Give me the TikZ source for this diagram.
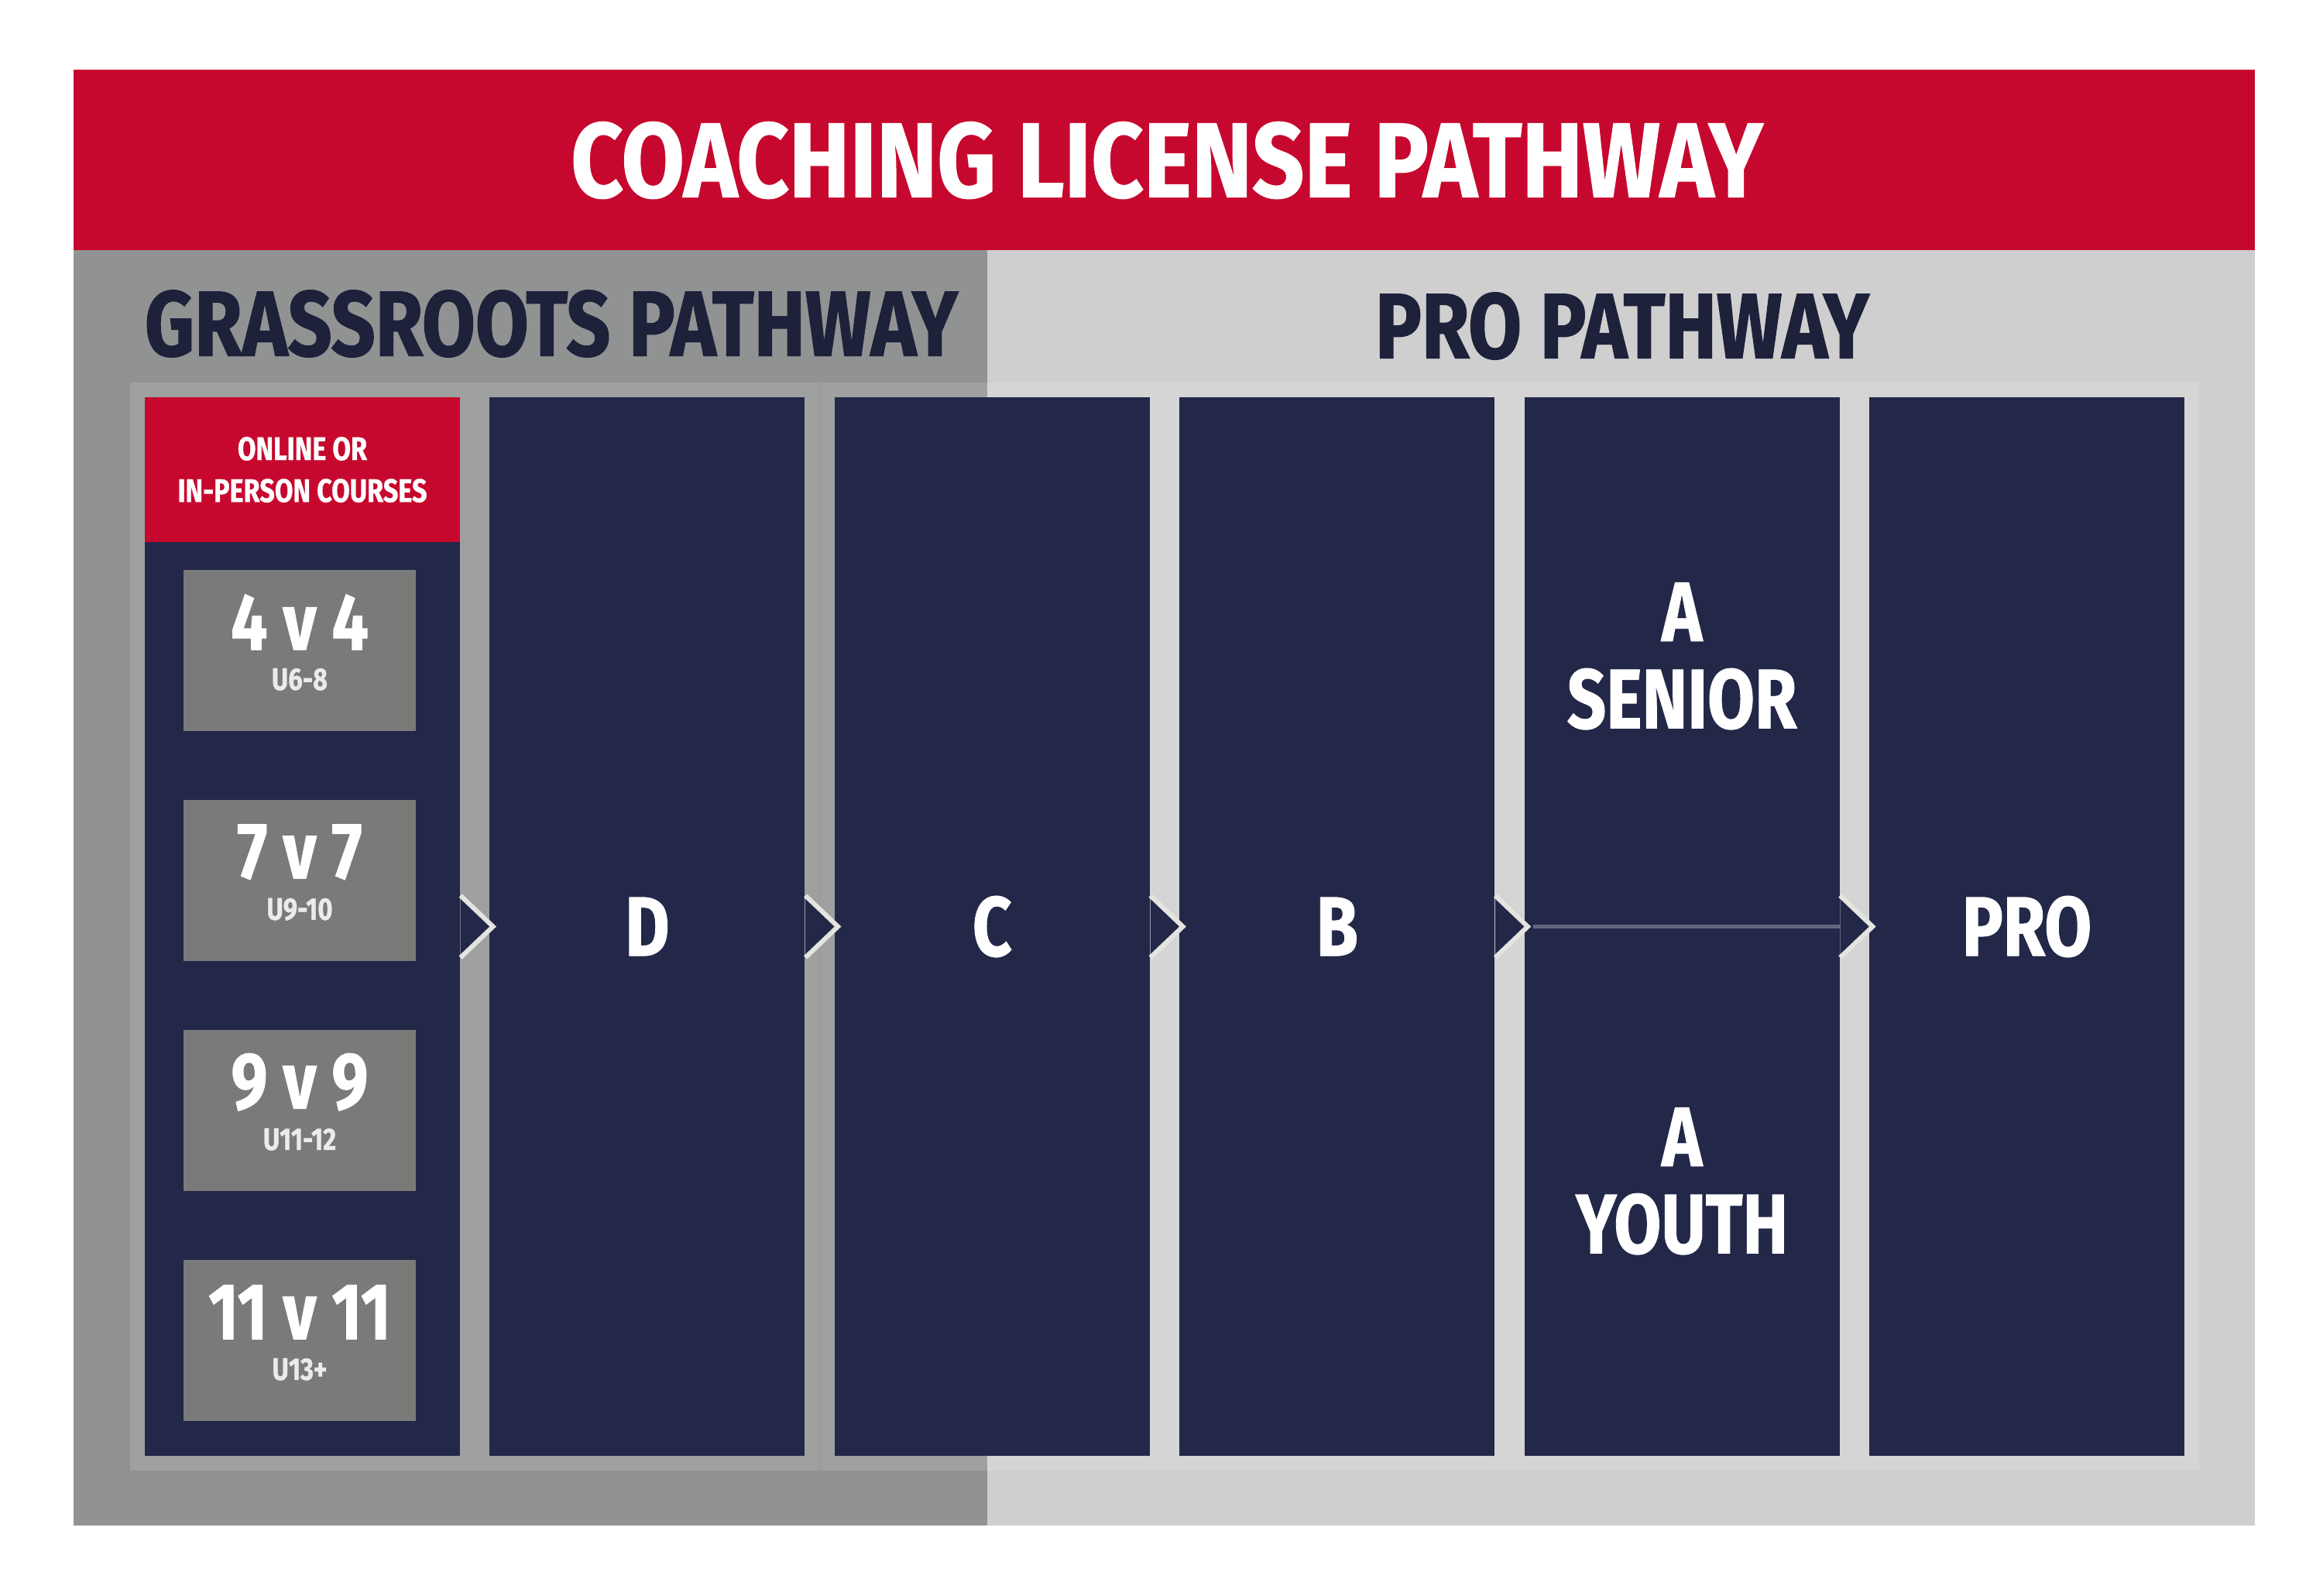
\documentclass[tikz,border=0pt]{standalone}
\usepackage{fontspec}
\setmainfont{Fira Sans}[FakeStretch=0.81, Numbers=Proportional, BoldFeatures={FakeBold=0.8}]
\newfontfamily\titlefont{Fira Sans}[FakeStretch=0.86, BoldFeatures={FakeBold=0.8}]
\newfontfamily\headfont{Fira Sans}[FakeStretch=0.835, BoldFeatures={FakeBold=1}]
\usetikzlibrary{positioning,calc}

\definecolor{usred}{RGB}{199,8,46}
\definecolor{navy}{RGB}{35,40,73}
\definecolor{ink}{RGB}{29,33,58}
\definecolor{darkframe}{RGB}{145,147,147}
\definecolor{lightframe}{RGB}{207,207,207}
\definecolor{boxgrey}{RGB}{122,122,120}
\definecolor{chevline}{RGB}{228,228,224}
\definecolor{splitline}{RGB}{98,103,128}

\begin{document}
\begin{tikzpicture}[x=1cm, y=-1cm,
    column/.style={rectangle, fill=navy, minimum width=4.07cm, minimum height=13.67cm, inner sep=0pt,
        text=white, font=\bfseries\fontsize{31}{32}\selectfont,
        preaction={draw=white, draw opacity=0.13, line width=0.38cm}},
    collabel/.style={text=white, align=center, inner sep=0pt, font=\bfseries\fontsize{31}{32}\selectfont},
    pathhead/.style={text=ink, inner sep=0pt, font=\headfont\bfseries\fontsize{34}{36}\selectfont},
    agebox/.style={rectangle, fill=boxgrey, minimum width=3.0cm, minimum height=2.08cm, inner sep=0pt},
    agemain/.style={text=white, inner sep=0pt, font=\bfseries\fontsize{29.5}{30}\selectfont},
    agesub/.style={text=white!85!boxgrey, inner sep=0pt, font=\bfseries\fontsize{11.5}{12}\selectfont},
    chev/.style={fill=navy, draw=chevline, line width=0.06cm, line join=miter},
    split/.style={draw=splitline, line width=0.05cm}]
        \useasboundingbox (0,0) rectangle (30,20.6);

        % Frame
        \fill[usred] (0.95,0.90) rectangle (29.12,3.23);
        \fill[darkframe] (0.95,3.23) rectangle (12.75,19.70);
        \fill[lightframe] (12.75,3.23) rectangle (29.12,19.70);

        % Headings
        \node[text=white, inner sep=0pt, font=\titlefont\bfseries\fontsize{39}{40}\selectfont] (title) at (15.07,2.07) {COACHING LICENSE PATHWAY};
        \node[pathhead] (grass) at (7.12,4.18) {GRASSROOTS PATHWAY};
        \node[pathhead] (pro) at (20.95,4.21) {PRO PATHWAY};

        % Columns
        \node[column] (c1) at (3.905,11.965) {};
        \node[column, right=0.37cm of c1] (c2) {D};
        \node[column, right=0.37cm of c2] (c3) {C};
        \node[column, right=0.37cm of c3] (c4) {B};
        \node[column, right=0.37cm of c4] (c5) {};
        \node[column, right=0.37cm of c5] (c6) {PRO};

        % Grassroots courses
        \node[rectangle, fill=usred, minimum width=4.07cm, minimum height=1.87cm, inner sep=0pt, anchor=north,
            align=center, text=white, font=\bfseries\fontsize{12}{15.4}\selectfont] (online) at (c1.north) {ONLINE OR\\IN-PERSON COURSES};
        \foreach \lbl/\age [count=\i] in {4 v 4/U6-8, 7 v 7/U9-10, 9 v 9/U11-12, 11 v 11/U13+} {
            \node[agebox] (age\i) at ($(c1.north)+(-0.035,{3.28+(\i-1)*2.97})$) {};
            \node[agemain] at ($(age\i)+(0,-0.37)$) {\lbl};
            \node[agesub] at ($(age\i)+(0,0.37)$) {\age};
        }

        % A licence
        \node[collabel] (senior) at ($(c5.north)+(0,3.35)$) {A\\SENIOR};
        \node[collabel] (youth) at ($(c5.north)+(0,10.13)$) {A\\YOUTH};

        % Arrows between columns
        \foreach \a in {c1,c2,c3,c4,c5}
            \draw[chev] ($(\a.east)+(0,-0.40)$) -- ++(0.42,0.40) coordinate (tip-\a) -- ++(-0.42,0.40);
        \draw[split, shorten <=2pt] (tip-c4) -- (c5.east);
    \end{tikzpicture}
\end{document}
